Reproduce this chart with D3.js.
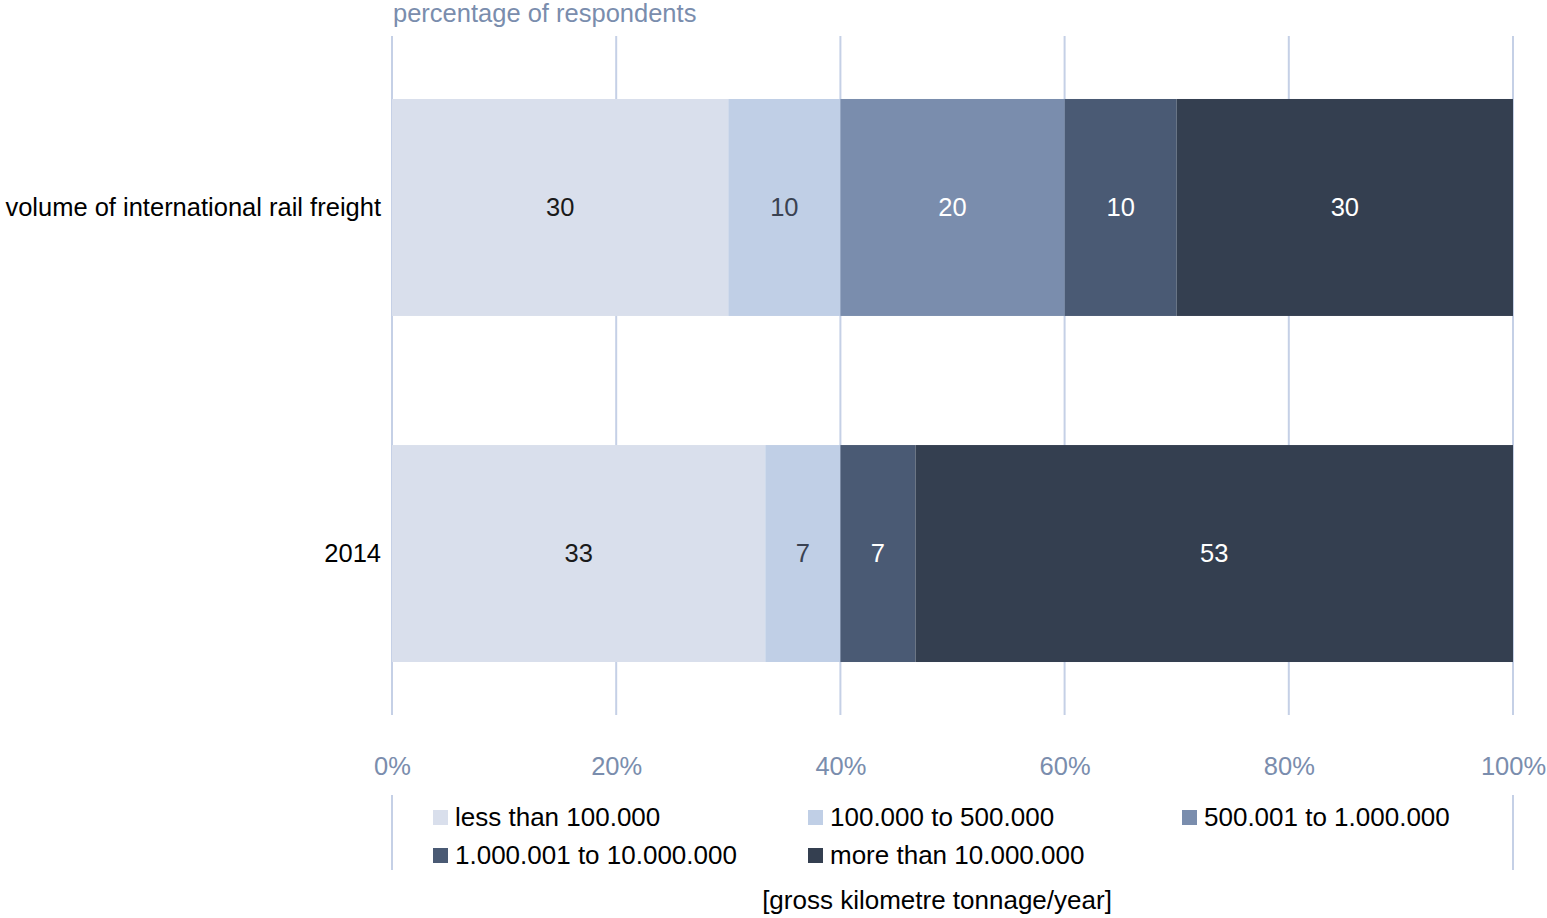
<!DOCTYPE html>
<html><head><meta charset="utf-8">
<script src="https://cdn.jsdelivr.net/npm/d3@7"></script>
<style>body{margin:0;background:#fff;}svg{display:block;font-family:"Liberation Sans",Arial,sans-serif;}</style>
</head><body>
<svg id="c" width="1547" height="918"></svg>
<script>
const categories = ["volume of international rail freight", "2014"];
const seriesNames = ["less than 100.000", "100.000 to 500.000", "500.001 to 1.000.000", "1.000.001 to 10.000.000", "more than 10.000.000"];
const series0 = [30, 33.3];   // less than 100.000
const series1 = [10, 6.7];    // 100.000 to 500.000
const series2 = [20, 0];      // 500.001 to 1.000.000
const series3 = [10, 6.7];    // 1.000.001 to 10.000.000
const series4 = [30, 53.3];   // more than 10.000.000
const tickValues = [0, 20, 40, 60, 80, 100];
const colors = ["#d9dfec", "#c0cfe6", "#7a8dad", "#4a5a74", "#343f50"];
const labelColors = ["#1a1a1a", "#3a4252", "#ffffff", "#ffffff", "#ffffff"];

const allSeries = [series0, series1, series2, series3, series4];
const rows = categories.map((c, i) => {
  const o = {cat: c};
  seriesNames.forEach((s, j) => o[s] = allSeries[j][i]);
  return o;
});
const stacked = d3.stack().keys(seriesNames)(rows);
const FS = 25.5;
const FF = "Liberation Sans, Arial, sans-serif";

const svg = d3.select("#c");
const x = d3.scaleLinear().domain([0, 100]).range([392, 1513]);
const y = d3.scaleBand().domain(categories).range([36.7, 724.3]).paddingInner(0.373).paddingOuter(0.18);

// gridlines
svg.append("g").selectAll("line").data(tickValues).join("line")
  .attr("x1", d => x(d)).attr("x2", d => x(d))
  .attr("y1", 36).attr("y2", 715)
  .attr("stroke", "#c5d0e6").attr("stroke-width", 2);

// bars
const g = svg.append("g");
stacked.forEach((layer, j) => {
  g.append("g").selectAll("rect").data(layer.filter(d => d[1] - d[0] > 0)).join("rect")
    .attr("x", d => x(d[0]))
    .attr("width", d => x(d[1]) - x(d[0]))
    .attr("y", d => y(d.data.cat))
    .attr("height", y.bandwidth())
    .attr("fill", colors[j]);
  g.append("g").selectAll("text").data(layer.filter(d => d[1] - d[0] > 0)).join("text")
    .attr("x", d => (x(d[0]) + x(d[1])) / 2)
    .attr("y", d => y(d.data.cat) + y.bandwidth() / 2)
    .attr("dy", "0.35em")
    .attr("text-anchor", "middle")
    .attr("font-size", FS)
    .attr("fill", labelColors[j])
    .text(d => d3.format(".0f")(d[1] - d[0]));
});

// category labels
const yAxis = svg.append("g").attr("transform", "translate(392,0)")
  .call(d3.axisLeft(y).tickSize(0).tickPadding(11));
yAxis.select(".domain").remove();
yAxis.selectAll("text").attr("font-size", FS).attr("fill", "#000").attr("font-family", FF);

// x axis tick labels
const xAxis = svg.append("g").attr("transform", "translate(0,757)")
  .call(d3.axisBottom(x).tickValues(tickValues).tickSize(0).tickPadding(0).tickFormat(d => d + "%"));
xAxis.select(".domain").remove();
xAxis.selectAll("text").attr("font-size", FS).attr("fill", "#7a8dad").attr("font-family", FF);

// top label
svg.append("text").attr("x", 393).attr("y", 22).attr("font-size", FS).attr("fill", "#7a8dad")
  .text("percentage of respondents");

// legend frame lines
[392, 1513].forEach(xx => svg.append("line").attr("x1", xx).attr("x2", xx).attr("y1", 795).attr("y2", 870)
  .attr("stroke", "#c5d0e6").attr("stroke-width", 2));

const legendPos = [[433, 817], [808, 817], [1182, 817], [433, 855], [808, 855]];
const lg = svg.append("g");
seriesNames.forEach((s, j) => {
  const [lx, ly] = legendPos[j];
  lg.append("rect").attr("x", lx).attr("y", ly - 7).attr("width", 15).attr("height", 15).attr("fill", colors[j]);
  lg.append("text").attr("x", lx + 22).attr("y", ly).attr("dy", "0.35em").attr("font-size", 26).attr("fill", "#000").text(s);
});

svg.append("text").attr("x", 937).attr("y", 909).attr("text-anchor", "middle")
  .attr("font-size", 26).attr("fill", "#000").text("[gross kilometre tonnage/year]");
</script>
</body></html>
